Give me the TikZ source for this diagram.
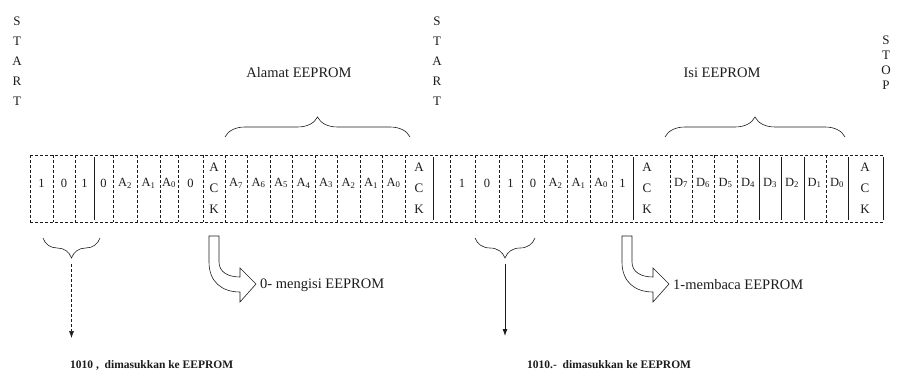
\documentclass[tikz,border=0pt]{standalone}
\usepackage{fontspec}
\setmainfont{Liberation Serif}
\usetikzlibrary{decorations.pathreplacing,arrows.meta}
\definecolor{ScanInk}{HTML}{1C1C1C}

\begin{document}
\begin{tikzpicture}[x=1pt,y=-1pt,
    bit/.style={font=\fontsize{12.5}{14}\selectfont,inner sep=0pt,text=ScanInk},
    ackbox/.style={font=\fontsize{13}{21}\selectfont,align=center,inner sep=0pt,text=ScanInk},
    letters/.style={font=\fontsize{13}{20}\selectfont,align=center,inner sep=0pt,text=ScanInk},
    rail/.style={draw=ScanInk,line width=0.5pt,dash pattern=on 3pt off 2pt},
    wall/.style={draw=ScanInk,line width=0.9pt},
    brace/.style={draw=ScanInk,line width=0.6pt,decorate,decoration={brace,amplitude=#1}},
    hollow/.style={draw=ScanInk,line width=0.6pt},
    note/.style={font=\fontsize{14.5}{16}\selectfont,inner sep=0pt,text=ScanInk},
    footnote/.style={font=\fontsize{11.5}{14}\selectfont\bfseries,inner sep=0pt,text=ScanInk,anchor=west}
  ]
    \useasboundingbox (0,0) rectangle (900,377);

    % start / stop columns
    \node[letters] (start1) at (17,61) {S\\T\\A\\R\\T};
    \node[letters] (start2) at (437,61) {S\\T\\A\\R\\T};
    \node[letters,font=\fontsize{13}{15}\selectfont] (stop) at (886,63) {S\\T\\O\\P};

    % the frame
    \draw[rail] (30,155) -- (883,155);
    \draw[rail] (30,222) -- (883,222);
    \foreach \x in {30,53,75,113,137,160,178,203,225,247.5,270,292.5,315,337.5,360,382.5,405,
                    450,475,499,522,544,567,590,612,670,692,714.5,737,826}
      \draw[rail] (\x,155) -- (\x,222);
    \foreach \x in {94,433,633,759,781,804,848,883}
      \draw[wall] (\x,157) -- (\x,220);

    % first frame: control byte, address
    \foreach \x/\t [count=\i] in {41.5/1,64/0,84.5/1,103.5/0,125/A\textsubscript{2},
                                 148.5/A\textsubscript{1},169/A\textsubscript{0},190.5/0}
      \node[bit] (wc\i) at (\x,183) {\t};
    \node[ackbox] (ack1) at (214,188) {A\\C\\K};
    \foreach \x/\t [count=\i] in {236/7,258.5/6,281/5,303.5/4,326/3,348.5/2,371/1,393.5/0}
      \node[bit] (wa\i) at (\x,183) {A\textsubscript{\t}};
    \node[ackbox] (ack2) at (419,188) {A\\C\\K};

    % second frame: control byte, data
    \foreach \x/\t [count=\i] in {462/1,487/0,510.5/1,533/0,555.5/A\textsubscript{2},
                                 578.5/A\textsubscript{1},601/A\textsubscript{0},622.5/1}
      \node[bit] (rc\i) at (\x,183) {\t};
    \node[ackbox] (ack3) at (647,188) {A\\C\\K};
    \foreach \x/\t [count=\i] in {681/7,703/6,725.5/5,748/4,770/3,792/2,814.5/1,837/0}
      \node[bit] (rd\i) at (\x,183) {D\textsubscript{\t}};
    \node[ackbox] (ack4) at (865,188) {A\\C\\K};

    % upper braces
    \draw[brace=20pt] (225,137) -- (410,137);
    \node[note] (addr) at (299,73) {Alamat EEPROM};
    \draw[brace=20pt] (665,137) -- (845,137);
    \node[note] (data) at (722,73) {Isi EEPROM};

    % lower braces and arrows
    \draw[brace=20pt] (100,238) -- (43,238);
    \coordinate (tip1) at (71.5,264);
    \coordinate (end1) at (71.5,338);
    \draw[rail,-{Latex[length=7pt,width=5pt]}] (tip1) -- (end1);
    \node[footnote] (wnote) at (70,365) {1010 ,\ \ dimasukkan ke EEPROM};

    \draw[brace=20pt] (535,238) -- (475,238);
    \coordinate (tip2) at (505,264);
    \coordinate (end2) at (505,336);
    \draw[draw=ScanInk,line width=0.8pt,-{Latex[length=7pt,width=5pt]}] (tip2) -- (end2);
    \node[footnote] (rnote) at (527,365) {1010.-\ \ dimasukkan ke EEPROM};

    % bent arrows below the R/W bits
    \draw[hollow]
      (209,236) -- (209,262) .. controls (209,282) and (222,292) .. (240,292) --
      (240,302) -- (256,284) -- (240,268) -- (240,277) .. controls (228,277) and (219,272) ..
      (219,262) -- (219,236) -- cycle;
    \node[note,anchor=west] (wmode) at (260,285) {0- mengisi EEPROM};
    \begin{scope}[xshift=413]
      \draw[hollow]
        (209,236) -- (209,262) .. controls (209,282) and (222,292) .. (240,292) --
        (240,302) -- (256,284) -- (240,268) -- (240,277) .. controls (228,277) and (219,272) ..
        (219,262) -- (219,236) -- cycle;
    \end{scope}
    \node[note,anchor=west] (rmode) at (673,285) {1-membaca EEPROM};
  \end{tikzpicture}
\end{document}
